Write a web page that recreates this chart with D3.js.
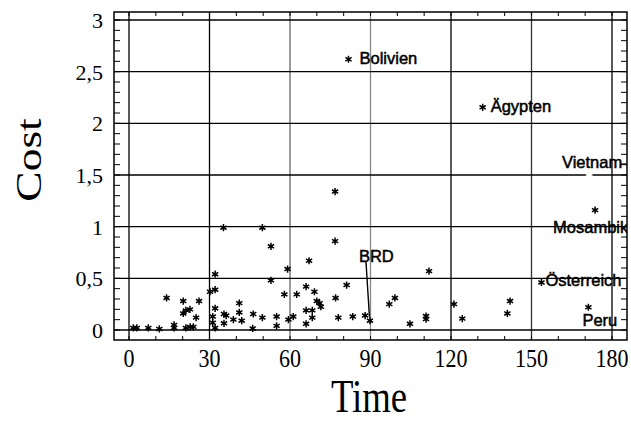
<!DOCTYPE html>
<html>
<head>
<meta charset="utf-8">
<script src="https://cdn.jsdelivr.net/npm/d3@7"></script>
<style>
  body { margin: 0; background: #fff; }
  svg { display: block; }
</style>
</head>
<body>
<div id="chart"></div>
<script>
// unlabeled points
const times = [1.6, 2.9, 7.2, 11.3, 16.8, 16.8, 21.2, 22.8, 24.0, 32.1,
  14.0, 20.2, 26.1, 21.2, 22.7, 20.2, 25.0, 32.1, 31.2, 31.2,
  35.4, 36.2, 35.4, 38.9, 41.1, 41.1, 42.0, 46.3, 46.1, 49.7,
  55.0, 55.0, 59.4, 61.2, 32.1, 32.1, 30.2, 35.2, 49.7, 52.9,
  59.1, 52.9, 57.9, 62.5, 66.0, 69.1, 70.0, 71.0, 71.5, 77.0,
  66.0, 68.3, 68.3, 66.0, 76.8, 76.8, 67.1, 81.1, 78.0, 83.4,
  88.0, 97.0, 99.1, 104.7, 110.7, 110.7, 111.8, 121.1, 124.2, 142.0, 141.0];
const costs = [0.02, 0.02, 0.02, 0.01, 0.02, 0.05, 0.02, 0.03, 0.03, 0.02,
  0.31, 0.28, 0.28, 0.19, 0.20, 0.16, 0.12, 0.21, 0.13, 0.07,
  0.155, 0.14, 0.065, 0.10, 0.26, 0.17, 0.09, 0.155, 0.015, 0.12,
  0.13, 0.04, 0.10, 0.13, 0.54, 0.39, 0.37, 0.99, 0.99, 0.81,
  0.59, 0.48, 0.345, 0.345, 0.42, 0.37, 0.28, 0.26, 0.225, 0.31,
  0.19, 0.19, 0.12, 0.06, 1.34, 0.86, 0.67, 0.435, 0.12, 0.13,
  0.14, 0.25, 0.31, 0.06, 0.135, 0.105, 0.57, 0.25, 0.11, 0.28, 0.16];

// labelled countries
const countries = ["Bolivien", "Ägypten", "Vietnam", "Mosambik", "Österreich", "Peru", "BRD"];
const countryTimes = [81.8, 131.8, 171.5, 173.7, 153.7, 171.2, 89.8];
const countryCosts = [2.62, 2.155, 1.5, 1.16, 0.46, 0.22, 0.09];

const xTicks = [0, 30, 60, 90, 120, 150, 180];
const yTicks = [0, 0.5, 1, 1.5, 2, 2.5, 3];
const yTickLabels = ["0", "0,5", "1", "1,5", "2", "2,5", "3"];

// label placement relative to the point (px)
const labelPos = {
  "Bolivien":   {dx: 11, dy: 5, anchor: "start"},
  "Ägypten":    {dx: 8, dy: 5, anchor: "start"},
  "Vietnam":    {dx: 33, dy: -7, anchor: "end"},
  "Mosambik":   {dx: -42, dy: 23, anchor: "start"},
  "Österreich": {dx: 4, dy: 4, anchor: "start"},
  "Peru":       {dx: -6, dy: 19, anchor: "start"},
  "BRD":        {dx: -11, dy: -59, anchor: "start"}
};

const W = 631, H = 421;
const svg = d3.select("#chart").append("svg")
  .attr("width", W).attr("height", H);

const x = d3.scaleLinear().domain([0, 180]).range([129, 612]);
const y = d3.scaleLinear().domain([0, 3]).range([330, 20]);

const fL = 114, fR = 627, fT = 12, fB = 340;

svg.append("defs").append("clipPath").attr("id", "frame")
  .append("rect").attr("x", fL).attr("y", fT)
  .attr("width", fR - fL).attr("height", fB - fT);

// grid
const vColor = {0: "#000", 30: "#000", 60: "#666", 90: "#888", 120: "#000", 150: "#333", 180: "#000"};
svg.append("g").selectAll("line").data(xTicks).enter().append("line")
  .attr("x1", d => x(d)).attr("x2", d => x(d))
  .attr("y1", fT).attr("y2", fB)
  .attr("stroke", d => vColor[d]).attr("stroke-width", 1.3);

svg.append("g").selectAll("line").data(yTicks).enter().append("line")
  .attr("x1", fL).attr("x2", fR)
  .attr("y1", d => y(d)).attr("y2", d => y(d))
  .attr("stroke", "#000").attr("stroke-width", 1.3);

// minor ticks
const yMinor = d3.range(0, 3.01, 0.1);
const xMinor = d3.range(0, 181, 10);
const ticks = svg.append("g").attr("stroke", "#000").attr("stroke-width", 1);
ticks.selectAll(".yl").data(yMinor).enter().append("line")
  .attr("x1", fL).attr("x2", fL + 6)
  .attr("y1", d => y(d)).attr("y2", d => y(d));
ticks.selectAll(".yr").data(yMinor).enter().append("line")
  .attr("x1", fR - 6).attr("x2", fR)
  .attr("y1", d => y(d)).attr("y2", d => y(d));
ticks.selectAll(".xt").data(xMinor).enter().append("line")
  .attr("x1", d => x(d)).attr("x2", d => x(d))
  .attr("y1", fT).attr("y2", fT + 4);
ticks.selectAll(".xb").data(xMinor).enter().append("line")
  .attr("x1", d => x(d)).attr("x2", d => x(d))
  .attr("y1", fB - 4).attr("y2", fB);

// frame
svg.append("rect")
  .attr("x", fL).attr("y", fT)
  .attr("width", fR - fL).attr("height", fB - fT)
  .attr("fill", "none").attr("stroke", "#000").attr("stroke-width", 1.5);

// tick labels
svg.append("g").selectAll("text").data(yTicks).enter().append("text")
  .attr("x", 103).attr("y", d => y(d) + 8)
  .attr("text-anchor", "end")
  .style("font-family", "'Liberation Serif', 'Times New Roman', serif")
  .style("font-size", "22px")
  .text((d, i) => yTickLabels[i]);

svg.append("g").selectAll("text").data(xTicks).enter().append("text")
  .attr("transform", d => `translate(${x(d)},367) scale(1,1.15)`)
  .attr("text-anchor", "middle")
  .style("font-family", "'Liberation Serif', 'Times New Roman', serif")
  .style("font-size", "22px")
  .text(d => d);

// axis titles
svg.append("text")
  .attr("transform", "translate(369,412) scale(1.05,1.3)")
  .attr("text-anchor", "middle")
  .style("font-family", "'Liberation Serif', 'Times New Roman', serif")
  .style("font-size", "35px")
  .text("Time");

svg.append("text")
  .attr("transform", "translate(41,160) rotate(-90) scale(1.3,1.05)")
  .attr("text-anchor", "middle")
  .style("font-family", "'Liberation Serif', 'Times New Roman', serif")
  .style("font-size", "35px")
  .text("Cost");

// points
const star = d3.symbol().type(d3.symbolAsterisk).size(36);
const pts = times.map((t, i) => ({t: t, c: costs[i]}));
svg.append("g").selectAll("path").data(pts).enter().append("path")
  .attr("transform", d => `translate(${x(d.t)},${y(d.c)})`)
  .attr("d", star)
  .attr("fill", "none").attr("stroke", "#000").attr("stroke-width", 1.5);

const lab = countries.map((n, i) => ({name: n, t: countryTimes[i], c: countryCosts[i]}));
const lg = svg.append("g").attr("clip-path", "url(#frame)");

lg.selectAll("path").data(lab).enter().append("path")
  .attr("transform", d => `translate(${x(d.t)},${y(d.c)})`)
  .attr("d", star)
  .attr("fill", "none")
  .attr("stroke", d => d.name === "Vietnam" ? "#fff" : "#000")
  .attr("stroke-width", d => d.name === "Vietnam" ? 2.2 : 1.5);

// leader lines
const brd = lab.find(d => d.name === "BRD");
lg.append("line")
  .attr("x1", x(brd.t) - 4).attr("y1", y(brd.c) - 59)
  .attr("x2", x(brd.t) - 0.5).attr("y2", y(brd.c) - 4)
  .attr("stroke", "#000").attr("stroke-width", 1.4);
const vn = lab.find(d => d.name === "Vietnam");
lg.append("line")
  .attr("x1", x(vn.t) + 32).attr("y1", y(vn.c) - 11)
  .attr("x2", x(vn.t) + 40).attr("y2", y(vn.c) - 11)
  .attr("stroke", "#000").attr("stroke-width", 1.2);

lg.selectAll("text").data(lab).enter().append("text")
  .attr("x", d => x(d.t) + labelPos[d.name].dx)
  .attr("y", d => y(d.c) + labelPos[d.name].dy)
  .attr("text-anchor", d => labelPos[d.name].anchor)
  .style("font-family", "'Liberation Sans', Arial, sans-serif")
  .style("font-size", "16.5px")
  .attr("stroke", "#000").attr("stroke-width", 0.5)
  .text(d => d.name);
</script>
</body>
</html>
